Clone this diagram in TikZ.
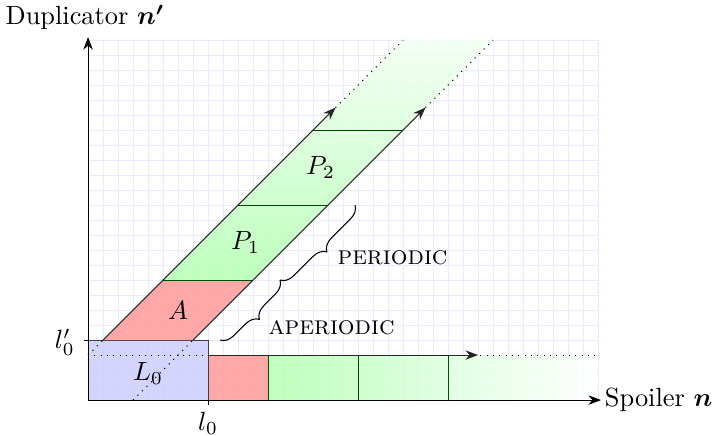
\documentclass[tikz,border=0pt]{standalone}
\usepackage{amsmath, amssymb, bm}
\usetikzlibrary{arrows.meta, decorations.pathreplacing}

\begin{document}
\begin{tikzpicture}[x=0.2cm, y=0.2cm,
	border/.style={draw=black!75},
	divider/.style={draw=green!30!black},
	region/.style={fill opacity=0.85},
	brc/.style={decorate, decoration={brace, mirror, amplitude=5pt}},
	flow/.style={-{Stealth}, black!85}]
	\useasboundingbox (-5.87,-2.33) rectangle (41.93,26.67);
	\draw[blue!8, very thin, step=0.2cm] (0,0) grid (34,24);
	% horizontal strip
	\fill[blue!20, region] (0,0) rectangle (8,4);
	\fill[red!40, region] (8,0) rectangle (12,3);
	\shade[left color=green!30, right color=white, region] (12,0) rectangle (34,3);
	\draw[divider] (12,0) -- (12,3);
	\draw[divider] (18,0) -- (18,3);
	\draw[divider] (24,0) -- (24,3);
	\draw[border] (0,0) rectangle (8,4);
	% diagonal band
	\fill[red!40, region] (1,4) -- (7,4) -- (11,8) -- (5,8) -- cycle;
	\shade[bottom color=green!30, top color=green!5, region] (5,8) -- (11,8) -- (27,24) -- (21,24) -- cycle;
	\draw[divider] (5,8) -- (11,8);
	\draw[divider] (10,13) -- (16,13);
	\draw[divider] (15,18) -- (21,18);
	% dotted continuations
	\draw[dotted] (0,3) -- (34,3);
	\draw[dotted] (3,0) -- (7,4);
	\draw[dotted] (0,3) -- (1,4);
	\draw[dotted] (16.5,19.5) -- (21,24);
	\draw[dotted] (22.5,19.5) -- (27,24);
	\draw[flow] (1,4) -- (16.5,19.5);
	\draw[flow] (7,4) -- (22.5,19.5);
	\draw[flow] (8,3) -- (26,3);
	% axes
	\draw[-{Stealth}] (0,0) -- (34.2,0);
	\draw[-{Stealth}] (0,0) -- (0,24.2);
	\node[anchor=west, inner sep=1pt] (spoiler) at (34.25,0) {Spoiler $\bm{n}$};
	\node[anchor=south] (dup) at (-0.2,24.05) {Duplicator $\bm{n'}$};
	\draw (0,4) -- (-0.3,4);
	\node (lzp) at (-1.55,3.85) {$l'_0$};
	\draw (8,0) -- (8,-0.35);
	\node (lz) at (8,-1.55) {$l_0$};
	% labels
	\node (lzero) at (4,1.8) {$L_0$};
	\node (apart) at (6,6) {$A$};
	\node (pone) at (10.5,10.5) {$P_1$};
	\node (ptwo) at (15.5,15.5) {$P_2$};
	\draw[brc] (8.8,4) -- (12.8,8);
	\draw[brc] (12.8,8) -- (17.8,13);
	\node[anchor=west, inner sep=0] (aper) at (12,4.8) {\textsc{aperiodic}};
	\node[anchor=west, inner sep=0] (per) at (16.6,9.5) {\textsc{periodic}};
\end{tikzpicture}
\end{document}
